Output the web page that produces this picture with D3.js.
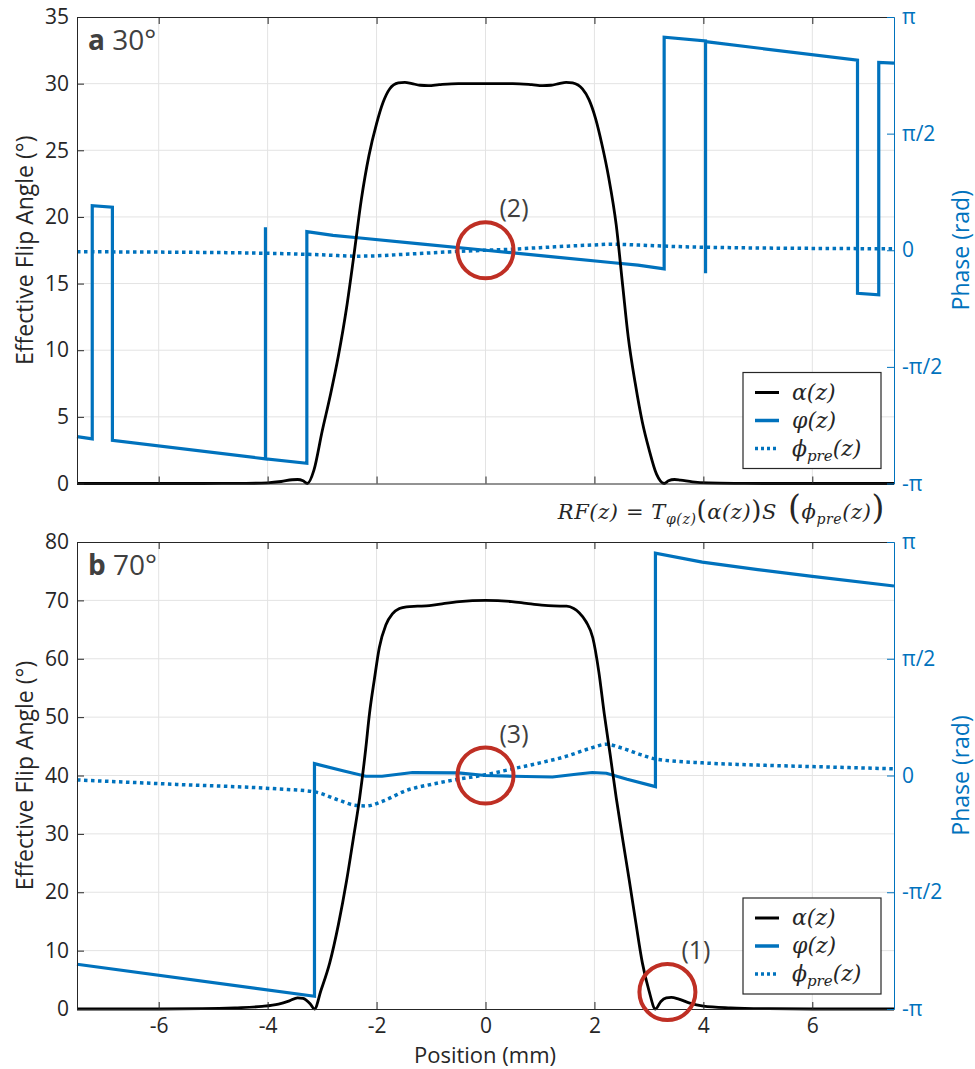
<!DOCTYPE html>
<html>
<head>
<meta charset="utf-8">
<script src="https://cdn.jsdelivr.net/npm/d3@7"></script>
<style>
  body { margin: 0; background: #fff; }
</style>
</head>
<body>
<div id="chart"></div>
<script>
// ticks
const xTicks = [-6, -4, -2, 0, 2, 4, 6];
const phaseTicks = [-Math.PI, -Math.PI / 2, 0, Math.PI / 2, Math.PI];
const phaseLabels = ["-π", "-π/2", "0", "π/2", "π"];
const topAngleTicks = [0, 5, 10, 15, 20, 25, 30, 35];
const botAngleTicks = [0, 10, 20, 30, 40, 50, 60, 70, 80];

// a) 30 degrees: [position mm, value]
const alphaTop = [[-7.5, 0], [-5.2, 0], [-4.4, 0.01], [-4.0, 0.05], [-3.75, 0.15], [-3.55, 0.28], [-3.45, 0.3],
  [-3.35, 0.2], [-3.27, 0], [-3.15, 1.0], [-3.0, 3.9], [-2.85, 6.6], [-2.7, 9.6], [-2.55, 13.2], [-2.42, 17.0],
  [-2.28, 21.3], [-2.14, 24.6], [-2.0, 27.0], [-1.88, 28.6], [-1.76, 29.6], [-1.6, 30.05], [-1.48, 30.1],
  [-1.35, 30.0], [-1.2, 29.88], [-1.05, 29.85], [-0.85, 29.92], [-0.5, 30.0], [0, 30.0], [0.5, 30.0],
  [0.85, 29.92], [1.05, 29.85], [1.2, 29.88], [1.35, 30.0], [1.48, 30.1], [1.6, 30.05], [1.78, 29.6],
  [1.9, 28.8], [2.02, 27.4], [2.14, 25.4], [2.26, 23.0], [2.4, 19.4], [2.52, 14.8], [2.62, 11.0], [2.75, 7.5],
  [2.88, 4.6], [3.0, 2.6], [3.14, 0.7], [3.28, 0], [3.36, 0.2], [3.47, 0.3], [3.58, 0.25], [3.8, 0.12],
  [4.1, 0.04], [4.6, 0.01], [5.2, 0], [7.5, 0]];
const phiTop = [[-7.5, -2.51], [-7.22, -2.54], [-7.22, 0.60], [-6.85, 0.58], [-6.85, -2.56], [-4.04, -2.81],
  [-4.04, 0.31], [-4.04, -2.81], [-3.28, -2.87], [-3.28, 0.25], [-2.8, 0.2], [-2.3, 0.165], [-1.2, 0.085], [0, 0],
  [1.2, -0.085], [2.3, -0.165], [2.8, -0.2], [3.28, -0.25], [3.28, 2.87], [4.04, 2.82], [4.04, -0.31],
  [4.04, 2.81], [6.83, 2.56], [6.83, -0.58], [7.22, -0.60], [7.22, 2.53], [7.5, 2.52]];
const preTop = [[-7.5, -0.02], [-6, -0.025], [-4.5, -0.035], [-3.5, -0.05], [-2.9, -0.065], [-2.4, -0.08],
  [-2.0, -0.075], [-1.5, -0.055], [-1.0, -0.035], [-0.5, -0.015], [0, 0], [0.5, 0.015], [1.0, 0.035],
  [1.5, 0.055], [2.0, 0.072], [2.3, 0.082], [2.8, 0.07], [3.5, 0.05], [4.5, 0.035], [6, 0.025], [7.5, 0.02]];

// b) 70 degrees
const alphaBot = [[-7.5, 0], [-6, 0], [-5.2, 0.05], [-4.6, 0.2], [-4.1, 0.45], [-3.8, 0.85], [-3.6, 1.4],
  [-3.45, 1.9], [-3.35, 1.8], [-3.22, 0.9], [-3.14, 0], [-3.02, 3.2], [-2.86, 7.9], [-2.7, 14.5], [-2.55, 22],
  [-2.43, 29], [-2.31, 36.2], [-2.2, 44.5], [-2.13, 50.6], [-2.04, 56.5], [-1.95, 61.9], [-1.83, 65.8],
  [-1.71, 67.7], [-1.58, 68.6], [-1.45, 68.9], [-1.25, 69.0], [-1.03, 69.1], [-0.75, 69.5], [-0.48, 69.8],
  [0, 70.0], [0.48, 69.8], [0.75, 69.5], [1.03, 69.2], [1.25, 69.05], [1.49, 69.0], [1.62, 68.6], [1.72, 67.9],
  [1.85, 66.3], [1.97, 63.6], [2.08, 57.8], [2.18, 50.6], [2.29, 43.5], [2.4, 36.2], [2.52, 29], [2.64, 22],
  [2.76, 14.8], [2.88, 7.9], [3.0, 3.2], [3.12, 0], [3.22, 1.3], [3.32, 1.9], [3.41, 2.0], [3.55, 1.7],
  [3.75, 1.0], [4.0, 0.5], [4.5, 0.2], [5.2, 0.05], [6, 0], [7.5, 0]];
const phiBot = [[-7.5, -2.54], [-3.14, -2.97], [-3.14, 0.16], [-2.6, 0.06], [-2.2, -0.01], [-1.9, -0.01],
  [-1.34, 0.04], [-0.5, 0.035], [0, 0], [0.5, -0.01], [1.23, -0.02], [1.7, 0.02], [1.96, 0.04], [2.22, 0.03],
  [2.6, -0.05], [3.12, -0.15], [3.12, 2.99], [3.98, 2.87], [5, 2.77], [6, 2.68], [7.5, 2.55]];
const preBot = [[-7.5, -0.06], [-5.67, -0.12], [-3.83, -0.18], [-3.14, -0.22], [-2.7, -0.33], [-2.4, -0.4],
  [-2.19, -0.41], [-1.9, -0.35], [-1.45, -0.2], [-1.0, -0.12], [-0.5, -0.05], [0, 0.01], [0.5, 0.09],
  [1.0, 0.17], [1.49, 0.26], [1.9, 0.36], [2.22, 0.42], [2.5, 0.37], [2.85, 0.28], [3.14, 0.22], [3.98, 0.17],
  [5, 0.14], [6, 0.12], [7.5, 0.09]];

// circled spots: [label, position, value, axis]
const marksTop = [["(2)", 0, 0, "phase"]];
const marksBot = [["(3)", 0, 0, "phase"], ["(1)", 3.34, 2.9, "angle"]];

const legendLabels = ["α(z)", "φ(z)", "ϕ"];

const width = 975;
const height = 1069;
const blue = "#0072bd";
const dark = "#262626";
const red = "#bf2f24";
const sans = "Open Sans, sans-serif";
const serif = "DejaVu Serif, serif";

const svg = d3.select("#chart")
  .append("svg")
  .attr("width", width)
  .attr("height", height)
  .attr("font-family", sans);

const x = d3.scaleLinear().domain([-7.5, 7.5]).range([77, 894]);

const panels = [
  { top: 17, bottom: 483.5, max: 35, ticks: topAngleTicks, alpha: alphaTop, phi: phiTop, pre: preTop,
    tag: "a", title: " 30°", marks: marksTop, xLabels: false },
  { top: 542, bottom: 1009, max: 80, ticks: botAngleTicks, alpha: alphaBot, phi: phiBot, pre: preBot,
    tag: "b", title: " 70°", marks: marksBot, xLabels: true }
];

const styleAxis = (g, color) => {
  g.attr("font-size", 21).attr("font-family", sans);
  g.select(".domain").attr("stroke", color);
  g.selectAll(".tick line").attr("stroke", color);
  g.selectAll(".tick text").attr("fill", color);
};

const drawPanel = (p) => {
  const yL = d3.scaleLinear().domain([0, p.max]).range([p.bottom, p.top]);
  const yR = d3.scaleLinear().domain([-Math.PI, Math.PI]).range([p.bottom, p.top]);
  const g = svg.append("g");

  // grid
  g.append("g").selectAll("line").data(xTicks).join("line")
    .attr("x1", d => x(d)).attr("x2", d => x(d))
    .attr("y1", p.top).attr("y2", p.bottom)
    .attr("stroke", "#e3e3e3").attr("stroke-width", 1);
  g.append("g").selectAll("line").data(p.ticks.slice(1, -1)).join("line")
    .attr("x1", x.range()[0]).attr("x2", x.range()[1])
    .attr("y1", d => yL(d)).attr("y2", d => yL(d))
    .attr("stroke", "#e3e3e3").attr("stroke-width", 1);

  // curves
  const lineR = d3.line().x(d => x(d[0])).y(d => yR(d[1]));
  const smoothR = d3.line().x(d => x(d[0])).y(d => yR(d[1])).curve(d3.curveMonotoneX);
  const lineL = d3.line().x(d => x(d[0])).y(d => yL(d[1])).curve(d3.curveMonotoneX);

  g.append("path")
    .attr("d", smoothR(p.pre))
    .attr("fill", "none").attr("stroke", blue)
    .attr("stroke-width", 3.5).attr("stroke-dasharray", "3.5,3.5");
  g.append("path")
    .attr("d", lineR(p.phi))
    .attr("fill", "none").attr("stroke", blue)
    .attr("stroke-width", 3.2).attr("stroke-linejoin", "miter");
  g.append("path")
    .attr("d", lineL(p.alpha))
    .attr("fill", "none").attr("stroke", "#000")
    .attr("stroke-width", 2.8);

  // axes
  g.append("g")
    .attr("transform", `translate(0,${p.bottom})`)
    .call(d3.axisBottom(x).tickValues(xTicks).tickSizeInner(-7).tickSizeOuter(0).tickPadding(9)
      .tickFormat(d => p.xLabels ? String(d) : ""))
    .call(a => styleAxis(a, dark));
  g.append("g")
    .attr("transform", `translate(0,${p.top})`)
    .call(d3.axisTop(x).tickValues(xTicks).tickSizeInner(-7).tickSizeOuter(0).tickFormat(""))
    .call(a => styleAxis(a, dark));
  g.append("g")
    .attr("transform", `translate(${x.range()[0]},0)`)
    .call(d3.axisLeft(yL).tickValues(p.ticks).tickSizeInner(-7).tickSizeOuter(0).tickPadding(8)
      .tickFormat(d => String(d)))
    .call(a => styleAxis(a, dark));
  g.append("g")
    .attr("transform", `translate(${x.range()[1]},0)`)
    .call(d3.axisRight(yR).tickValues(phaseTicks).tickSizeInner(-7).tickSizeOuter(0).tickPadding(8)
      .tickFormat((d, i) => phaseLabels[i]))
    .call(a => styleAxis(a, blue));

  // axis titles
  const mid = (p.top + p.bottom) / 2;
  g.append("text")
    .attr("transform", `translate(33,${mid}) rotate(-90)`)
    .attr("text-anchor", "middle").attr("font-size", 23).attr("fill", dark)
    .text("Effective Flip Angle (°)");
  g.append("text")
    .attr("transform", `translate(969,${mid}) rotate(-90)`)
    .attr("text-anchor", "middle").attr("font-size", 23).attr("fill", blue)
    .text("Phase (rad)");

  // panel tag
  const tag = g.append("text")
    .attr("x", 88).attr("y", p.top + 33)
    .attr("font-size", 28).attr("fill", "#404040");
  tag.append("tspan").attr("font-weight", "bold").text(p.tag);
  tag.append("tspan").text(p.title);

  // circles
  p.marks.forEach(m => {
    const cx = x(m[1]);
    const cy = m[3] === "phase" ? yR(m[2]) : yL(m[2]);
    g.append("circle")
      .attr("cx", cx).attr("cy", cy).attr("r", 28)
      .attr("fill", "none").attr("stroke", red).attr("stroke-width", 4);
    g.append("text")
      .attr("x", cx + 14).attr("y", cy - 33)
      .attr("font-size", 25).attr("fill", "#404040")
      .text(m[0]);
  });

  // legend
  const lg = g.append("g").attr("transform", `translate(743,${p.bottom - 111})`);
  lg.append("rect")
    .attr("width", 138).attr("height", 96)
    .attr("fill", "#fff").attr("stroke", dark).attr("stroke-width", 1.2);
  const rows = [
    { color: "#000", dash: null, w: 3 },
    { color: blue, dash: null, w: 3.5 },
    { color: blue, dash: "3,3", w: 3.5 }
  ];
  rows.forEach((r, i) => {
    const yy = 20 + i * 28;
    lg.append("line")
      .attr("x1", 12).attr("x2", 36).attr("y1", yy).attr("y2", yy)
      .attr("stroke", r.color).attr("stroke-width", r.w)
      .attr("stroke-dasharray", r.dash);
    const t = lg.append("text")
      .attr("x", 49).attr("y", yy + 7)
      .attr("font-family", serif).attr("font-style", "italic")
      .attr("font-size", 22).attr("fill", dark);
    if (i < 2) {
      t.text(legendLabels[i]);
    } else {
      t.append("tspan").text(legendLabels[i]);
      t.append("tspan").attr("dy", 5).attr("font-size", 15).text("pre");
      t.append("tspan").attr("dy", -5).text("(z)");
    }
  });
};

panels.forEach(drawPanel);

// x title
svg.append("text")
  .attr("x", 485).attr("y", 1063)
  .attr("text-anchor", "middle").attr("font-size", 22).attr("fill", dark)
  .text("Position (mm)");

// formula between the panels
const f = svg.append("text")
  .attr("x", 885).attr("y", 519)
  .attr("text-anchor", "end")
  .attr("font-family", serif).attr("font-style", "italic")
  .attr("font-size", 21).attr("letter-spacing", 0.6).attr("fill", dark);
f.append("tspan").text("RF(z) ");
f.append("tspan").attr("font-style", "normal").text("= ");
f.append("tspan").text("T");
f.append("tspan").attr("dy", 5).attr("font-size", 14).text("φ(z)");
f.append("tspan").attr("dy", -5).attr("font-size", 26).attr("font-style", "normal").text("(");
f.append("tspan").text("α(z)");
f.append("tspan").attr("font-size", 26).attr("font-style", "normal").text(")");
f.append("tspan").text("S");
f.append("tspan").attr("font-size", 33).attr("font-style", "normal").text(" (");
f.append("tspan").text("ϕ");
f.append("tspan").attr("dy", 5).attr("font-size", 14).text("pre");
f.append("tspan").attr("dy", -5).text("(z)");
f.append("tspan").attr("font-size", 33).attr("font-style", "normal").text(")");
</script>
</body>
</html>
